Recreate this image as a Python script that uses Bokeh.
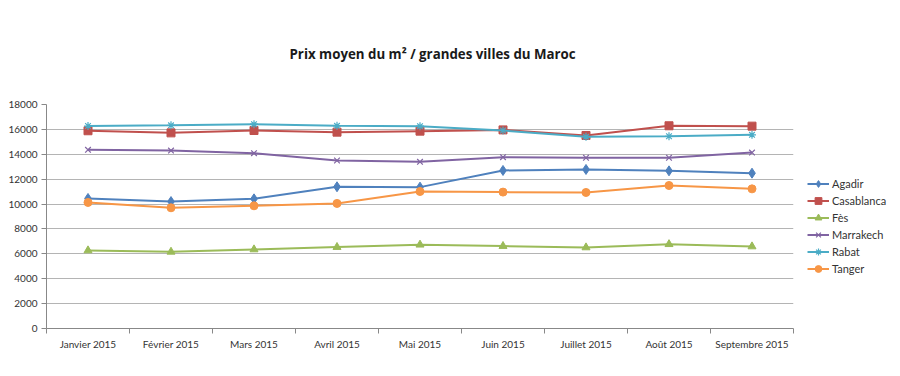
from bokeh.plotting import figure
from bokeh.models import FixedTicker, Legend, LegendItem, Range1d
from bokeh.embed import file_html
from bokeh.resources import INLINE

months = ["Janvier 2015", "Février 2015", "Mars 2015", "Avril 2015", "Mai 2015",
          "Juin 2015", "Juillet 2015", "Août 2015", "Septembre 2015"]
agadir = [10450, 10200, 10420, 11390, 11360, 12700, 12780, 12670, 12480]
casablanca = [15890, 15720, 15910, 15780, 15860, 15960, 15510, 16290, 16260]
fes = [6270, 6160, 6350, 6540, 6730, 6620, 6510, 6770, 6590]
marrakech = [14360, 14300, 14090, 13500, 13390, 13770, 13720, 13720, 14140]
rabat = [16270, 16330, 16420, 16290, 16260, 15910, 15400, 15450, 15560]
tanger = [10130, 9700, 9860, 10050, 11010, 10960, 10930, 11490, 11220]
y_ticks = [0, 2000, 4000, 6000, 8000, 10000, 12000, 14000, 16000, 18000]
title_text = "Prix moyen du m² / grandes villes du Maroc"

FONT = "Lato"
xs = [i + 0.5 for i in range(len(months))]

p = figure(frame_width=747, frame_height=224, min_border_left=46, min_border_top=104,
           min_border_bottom=36, min_border_right=0, output_backend="svg", toolbar_location=None,
           x_range=Range1d(0, len(months)), y_range=Range1d(0, 18000))
p.outline_line_color = None
p.background_fill_color = "white"
p.border_fill_color = "white"

p.title.text = title_text
p.title.text_font = "Open Sans"
p.title.text_font_size = "13.3px"
p.title.text_font_style = "bold"
p.title.text_color = "#1a1a1a"
p.title.align = "left"
p.title.offset = 243
p.title.standoff = 84

p.xaxis.ticker = FixedTicker(ticks=xs, minor_ticks=list(range(len(months) + 1)))
p.xaxis.major_label_overrides = {x: m for x, m in zip(xs, months)}
p.xaxis.major_tick_out = 0
p.xaxis.major_tick_in = 0
p.xaxis.minor_tick_out = 5
p.xaxis.minor_tick_in = 0
p.xaxis.minor_tick_line_color = "#888888"
p.xaxis.axis_line_color = "#888888"
p.xaxis.major_label_standoff = 4

p.yaxis.ticker = FixedTicker(ticks=y_ticks)
p.yaxis.minor_tick_line_color = None
p.yaxis.major_tick_out = 5
p.yaxis.major_tick_in = 0
p.yaxis.major_tick_line_color = "#888888"
p.yaxis.axis_line_color = "#888888"
p.yaxis.major_label_standoff = 4

for ax in (p.xaxis, p.yaxis):
    ax.major_label_text_font = FONT
    ax.major_label_text_font_size = "10px"
    ax.major_label_text_color = "#333333"

p.xgrid.grid_line_color = None
p.ygrid.grid_line_color = "#b4b4b4"
p.ygrid.grid_line_width = 1

series = [
    ("Agadir", agadir, "#4F81BD", "diamond", 10),
    ("Casablanca", casablanca, "#C0504D", "square", 8),
    ("Fès", fes, "#9BBB59", "triangle", 8),
    ("Marrakech", marrakech, "#8064A2", "x", 8),
    ("Rabat", rabat, "#4BACC6", "asterisk", 8),
    ("Tanger", tanger, "#F79646", "circle", 8),
]

items = []
for name, vals, col, mk, sz in series:
    r1 = p.line(xs, vals, line_color=col, line_width=2)
    r2 = p.scatter(xs, vals, marker=mk, size=sz, fill_color=col, line_color=col,
                   line_width=1.2 if mk in ("x", "asterisk") else 1)
    items.append(LegendItem(label=name, renderers=[r1, r2]))

legend = Legend(items=items, location=(14, 51), orientation="vertical")
legend.border_line_color = None
legend.background_fill_alpha = 0
legend.label_text_font = FONT
legend.label_text_font_size = "11px"
legend.label_text_color = "#333333"
legend.glyph_width = 22
legend.glyph_height = 17
legend.label_height = 17
legend.spacing = 0
legend.padding = 0
legend.label_standoff = 3
p.add_layout(legend, "right")
legend.margin = 13

open("out.html", "w").write(file_html(p, INLINE))
